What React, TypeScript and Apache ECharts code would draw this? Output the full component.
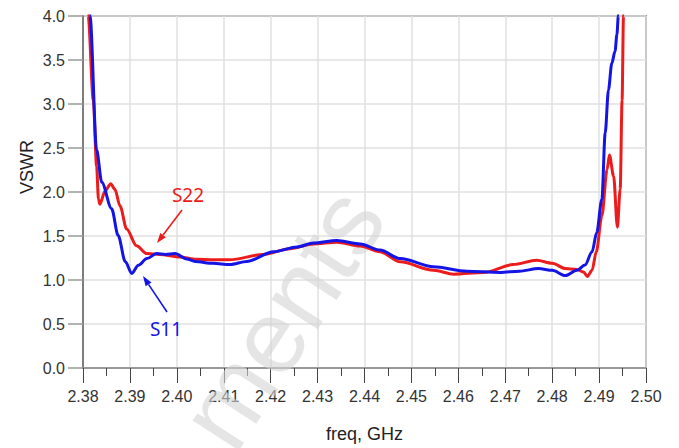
import React, { useEffect, useRef } from "react";
import * as echarts from "echarts";

const xTickMin = 2.38;
const xTickMax = 2.5;
const xTickStep = 0.01;
const yTickMin = 0;
const yTickMax = 4;
const yTickStep = 0.5;

const s11Freq = [2.3812, 2.3815, 2.3829, 2.384, 2.3861, 2.3875, 2.389, 2.3904, 2.3918, 2.3936, 2.3957, 2.3976, 2.3996, 2.4021, 2.4039, 2.4077, 2.4113, 2.4149, 2.4206, 2.4256, 2.4291, 2.4341, 2.4391, 2.4433, 2.4476, 2.4547, 2.4618, 2.4689, 2.473, 2.4771, 2.48, 2.4828, 2.4853, 2.487, 2.4885, 2.4895, 2.4906, 2.4913, 2.492, 2.4927, 2.4934, 2.4938, 2.4941, 2.4944];
const s11Vswr = [4.6, 4.0, 2.48, 2.11, 1.81, 1.505, 1.21, 1.074, 1.168, 1.243, 1.3, 1.29, 1.3, 1.24, 1.21, 1.19, 1.175, 1.21, 1.32, 1.375, 1.42, 1.45, 1.41, 1.34, 1.243, 1.15, 1.1, 1.085, 1.1, 1.13, 1.11, 1.05, 1.11, 1.17, 1.32, 1.54, 1.92, 2.67, 3.16, 3.46, 3.6, 3.79, 4.0, 4.6];

const s22Freq = [2.3808, 2.3811, 2.3822, 2.3829, 2.3833, 2.3836, 2.3847, 2.3859, 2.3868, 2.3879, 2.3893, 2.3914, 2.3936, 2.3964, 2.4007, 2.4042, 2.4078, 2.4113, 2.4184, 2.4241, 2.4291, 2.4341, 2.4391, 2.4433, 2.4476, 2.4547, 2.459, 2.4654, 2.4717, 2.4767, 2.48, 2.4828, 2.4853, 2.4867, 2.4875, 2.4885, 2.4894, 2.4906, 2.4917, 2.4922, 2.4931, 2.4939, 2.4945, 2.4949, 2.4952, 2.4954];
const s22Vswr = [4.6, 4.0, 3.04, 2.29, 1.918, 1.86, 2.01, 2.095, 2.03, 1.84, 1.58, 1.39, 1.3, 1.29, 1.26, 1.235, 1.23, 1.23, 1.29, 1.355, 1.41, 1.43, 1.385, 1.32, 1.206, 1.11, 1.066, 1.085, 1.175, 1.225, 1.19, 1.13, 1.12, 1.09, 1.04, 1.11, 1.32, 1.73, 2.255, 2.42, 2.18, 1.6, 2.03, 3.04, 4.0, 4.6];

const BLUE = "#1414e6";
const RED = "#ec1c1c";
const FONT = "Liberation Sans, Arial, sans-serif";

function arrow(x1: number, y1: number, x2: number, y2: number, color: string) {
  const dx = x2 - x1;
  const dy = y2 - y1;
  const len = Math.sqrt(dx * dx + dy * dy);
  const ux = dx / len;
  const uy = dy / len;
  const hl = 10;
  const hw = 3.5;
  const bx = x2 - ux * hl;
  const by = y2 - uy * hl;
  return [
    {
      type: "line",
      z: 10,
      shape: { x1, y1, x2: bx, y2: by },
      style: { stroke: color, lineWidth: 1.6 },
    },
    {
      type: "polygon",
      z: 10,
      shape: {
        points: [
          [x2, y2],
          [bx - uy * hw, by + ux * hw],
          [bx + uy * hw, by - ux * hw],
        ],
      },
      style: { fill: color },
    },
  ];
}

export default function App() {
  const ref = useRef<HTMLDivElement>(null);
  useEffect(() => {
    if (!ref.current) return;
    const chart = echarts.init(ref.current, null, { renderer: "svg" });
    const s11 = s11Freq.map((f, i) => [f, s11Vswr[i]]);
    const s22 = s22Freq.map((f, i) => [f, s22Vswr[i]]);
    chart.setOption({
      animation: false,
      backgroundColor: "#ffffff",
      grid: {
        left: 83,
        right: 33,
        top: 16,
        bottom: 79,
        show: true,
        borderColor: "#555555",
        borderWidth: 1.5,
      },
      xAxis: {
        type: "value",
        min: xTickMin,
        max: xTickMax,
        interval: xTickStep,
        name: "freq, GHz",
        nameLocation: "middle",
        nameGap: 57,
        nameTextStyle: { fontSize: 18, color: "#222", fontFamily: FONT },
        axisLine: { show: true, onZero: false, lineStyle: { color: "#8a8a8a", width: 1.5 } },
        axisTick: { show: true, length: 15, lineStyle: { color: "#444", width: 1 } },
        minorTick: { show: true, splitNumber: 2, length: 8, lineStyle: { color: "#444", width: 1 } },
        splitLine: { show: true, lineStyle: { color: "#e0e0e0", width: 1.5 } },
        axisLabel: {
          fontSize: 16,
          color: "#333",
          margin: 20,
          fontFamily: FONT,
          formatter: (v: number) => v.toFixed(2),
        },
      },
      yAxis: {
        type: "value",
        min: yTickMin,
        max: yTickMax,
        interval: yTickStep,
        axisLine: { show: true, lineStyle: { color: "#666", width: 1.5 } },
        axisTick: { show: true, length: 15, lineStyle: { color: "#999", width: 1.5 } },
        splitLine: { show: true, lineStyle: { color: "#e0e0e0", width: 1.5 } },
        axisLabel: {
          fontSize: 16,
          color: "#333",
          margin: 18,
          fontFamily: FONT,
          formatter: (v: number) => v.toFixed(1),
        },
      },
      graphic: [
        {
          type: "text",
          z: 1,
          x: 282,
          y: 318,
          rotation: (57 * Math.PI) / 180,
          style: {
            text: "ments",
            fontSize: 104,
            fontFamily: FONT,
            fill: "rgba(212,212,212,0.6)",
            align: "center",
            verticalAlign: "middle",
          },
        },
        {
          type: "text",
          z: 10,
          x: 27,
          y: 167,
          rotation: Math.PI / 2,
          style: {
            text: "VSWR",
            fontSize: 18,
            fontFamily: FONT,
            fill: "#222",
            align: "center",
            verticalAlign: "middle",
          },
        },
        {
          type: "text",
          z: 10,
          x: 188,
          y: 195,
          style: {
            text: "S22",
            fontSize: 19,
            fontFamily: "Noto Sans, sans-serif",
            fill: RED,
            align: "center",
            verticalAlign: "middle",
          },
        },
        {
          type: "text",
          z: 10,
          x: 166,
          y: 329,
          style: {
            text: "S11",
            fontSize: 19,
            fontFamily: "Noto Sans, sans-serif",
            fill: BLUE,
            align: "center",
            verticalAlign: "middle",
          },
        },
        ...arrow(182, 210, 157, 243, RED),
        ...arrow(167, 312, 143, 276, BLUE),
      ],
      series: [
        {
          name: "S22",
          type: "line",
          data: s22,
          showSymbol: false,
          smooth: 0.3,
          smoothMonotone: "x",
          clip: true,
          z: 3,
          lineStyle: { color: RED, width: 3 },
        },
        {
          name: "S11",
          type: "line",
          data: s11,
          showSymbol: false,
          smooth: 0.3,
          smoothMonotone: "x",
          clip: true,
          z: 4,
          lineStyle: { color: BLUE, width: 3 },
        },
      ],
    });
    return () => chart.dispose();
  }, []);
  return (
    <div
      ref={ref}
      style={{ width: 679, height: 448, position: "fixed", left: 0, top: 0 }}
    />
  );
}
